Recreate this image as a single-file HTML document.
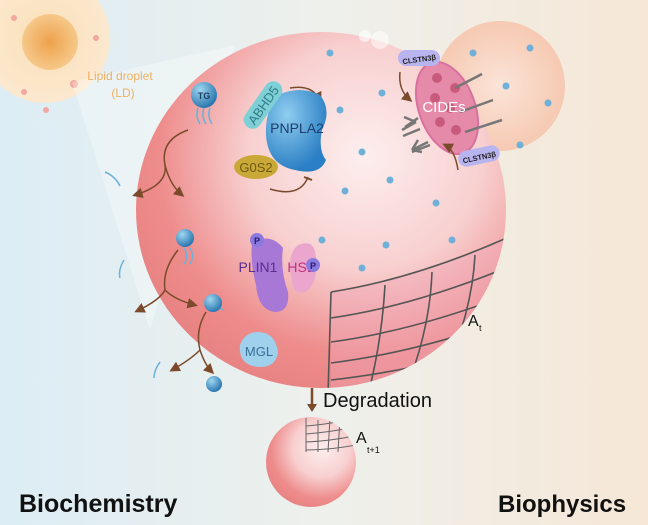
<!DOCTYPE html>
<html><head><meta charset="utf-8"><style>
html,body{margin:0;padding:0;width:648px;height:525px;overflow:hidden}
svg{display:block}
text{font-family:"Liberation Sans",sans-serif}
</style></head><body>
<svg width="648" height="525" viewBox="0 0 648 525" xmlns="http://www.w3.org/2000/svg">
<defs>
<linearGradient id="bg" x1="0" x2="1" y1="0" y2="0">
<stop offset="0" stop-color="#dcedf5"/><stop offset="0.5" stop-color="#eef0ec"/><stop offset="1" stop-color="#f6e7d6"/></linearGradient>
<radialGradient id="sph" cx="0.62" cy="0.35" r="0.7">
<stop offset="0" stop-color="#fdeeee"/><stop offset="0.45" stop-color="#f8d0d0"/><stop offset="0.8" stop-color="#ee8c8c"/><stop offset="1" stop-color="#e88282"/></radialGradient>
<radialGradient id="cell" cx="0.5" cy="0.5" r="0.5">
<stop offset="0" stop-color="#fbe0b8"/><stop offset="1" stop-color="#fbe8cf"/></radialGradient>
<radialGradient id="core" cx="0.5" cy="0.5" r="0.5">
<stop offset="0" stop-color="#eea24c"/><stop offset="1" stop-color="#f6c88a"/></radialGradient>
<radialGradient id="bub" cx="0.5" cy="0.5" r="0.5">
<stop offset="0" stop-color="#fbe4d8"/><stop offset="1" stop-color="#f6c9b2"/></radialGradient>
<radialGradient id="blue" cx="0.35" cy="0.3" r="0.7">
<stop offset="0" stop-color="#8fcdf0"/><stop offset="1" stop-color="#2b7fc4"/></radialGradient>
<radialGradient id="ball" cx="0.35" cy="0.3" r="0.7">
<stop offset="0" stop-color="#9fd6f0"/><stop offset="1" stop-color="#2b78b0"/></radialGradient>
<marker id="ah" markerWidth="7" markerHeight="7" refX="5" refY="3.5" orient="auto"><path d="M0,0 L7,3.5 L0,7 Z" fill="#7a4a2a"/></marker>
<clipPath id="sclip"><ellipse cx="321" cy="210" rx="185" ry="178"/></clipPath>
<clipPath id="s2clip"><circle cx="311" cy="462" r="45"/></clipPath>
</defs>
<rect width="648" height="525" fill="url(#bg)"/>
<circle cx="45" cy="38" r="65" fill="url(#cell)"/>
<circle cx="50" cy="42" r="28" fill="url(#core)"/>
<circle cx="14" cy="18" r="3" fill="#f2a8a0"/><circle cx="96" cy="38" r="3" fill="#f2a8a0"/><circle cx="24" cy="92" r="3" fill="#f2a8a0"/><circle cx="46" cy="110" r="3" fill="#f2a8a0"/><circle cx="74" cy="84" r="4" fill="#f2a8a0"/>
<path d="M72,82 L235,45 L150,330 Z" fill="#ffffff" opacity="0.3"/>
<circle cx="500" cy="86" r="65" fill="url(#bub)"/>
<ellipse cx="321" cy="210" rx="185" ry="178" fill="url(#sph)"/>
<g clip-path="url(#sclip)" stroke="#555" stroke-width="1.6" fill="none">
<path d="M331,292 Q420,278 520,232 L520,400 L331,400 Z" fill="#f0a8b8" opacity="0.4" stroke="none"/>
<path d="M331,292 Q420,278 520,232"/>
<path d="M331,318 Q420,305 520,262"/>
<path d="M331,342 Q420,330 520,290"/>
<path d="M331,363 Q420,352 520,315"/>
<path d="M331,380 Q420,370 520,340"/>
<path d="M331,393 Q420,386 520,362"/>
<path d="M331,292 L328,395"/>
<path d="M385,285 Q382,340 368,395"/>
<path d="M432,272 Q430,330 405,392"/>
<path d="M475,255 Q472,315 440,385"/>
<path d="M505,240 Q505,300 470,375"/>
</g>
<circle cx="365" cy="36" r="6" fill="#fff" opacity="0.6"/><circle cx="380" cy="40" r="9" fill="#fff" opacity="0.5"/>
<g fill="#6fb0d8">
<circle cx="330" cy="53" r="3.5"/><circle cx="382" cy="93" r="3.5"/><circle cx="340" cy="110" r="3.5"/><circle cx="362" cy="152" r="3.5"/><circle cx="345" cy="191" r="3.5"/><circle cx="390" cy="180" r="3.5"/><circle cx="322" cy="240" r="3.5"/><circle cx="362" cy="268" r="3.5"/><circle cx="386" cy="245" r="3.5"/><circle cx="452" cy="240" r="3.5"/><circle cx="436" cy="203" r="3.5"/><circle cx="473" cy="53" r="3.5"/><circle cx="506" cy="86" r="3.5"/><circle cx="530" cy="48" r="3.5"/><circle cx="548" cy="103" r="3.5"/><circle cx="520" cy="145" r="3.5"/>
</g>
<ellipse cx="447" cy="108" rx="28" ry="48" transform="rotate(-20 447 108)" fill="#e58aa8" stroke="#d870a0" stroke-width="2"/>
<g fill="#c85a7c"><circle cx="437" cy="78" r="5"/><circle cx="455" cy="88" r="5"/><circle cx="435" cy="98" r="5"/><circle cx="450" cy="108" r="5"/><circle cx="440" cy="122" r="5"/><circle cx="456" cy="130" r="5"/></g>
<g stroke="#777" stroke-width="2.5"><line x1="455" y1="88" x2="482" y2="74"/><line x1="460" y1="112" x2="493" y2="100"/><line x1="465" y1="132" x2="502" y2="120"/></g>
<text x="444" y="112" font-size="15" fill="#fff" text-anchor="middle">CIDEs</text>
<g stroke="#777" stroke-width="2.5" fill="none"><path d="M416,122 L402,130 M416,122 L404,117 M405,127 L418,118"/><path d="M428,142 L412,150 M412,150 L418,140 M412,150 L422,152"/><path d="M420,129 L403,136"/><path d="M430,145 L412,152"/></g>
<rect x="398" y="50" width="42" height="16" rx="8" fill="#b8b4f0"/><text x="419" y="62" font-size="7.5" font-weight="bold" text-anchor="middle" fill="#222" transform="rotate(-8 419 58)">CLSTN3β</text>
<rect x="458" y="148" width="42" height="16" rx="8" fill="#b8b4f0" transform="rotate(-12 479 156)"/><text x="479" y="160" font-size="7.5" font-weight="bold" text-anchor="middle" fill="#222" transform="rotate(-12 479 156)">CLSTN3β</text>
<path d="M400,72 Q398,90 410,100" stroke="#7a4a2a" stroke-width="1.5" fill="none" marker-end="url(#ah)"/>
<path d="M458,170 Q455,150 445,145" stroke="#7a4a2a" stroke-width="1.5" fill="none" marker-end="url(#ah)"/>
<path d="M290,88 Q312,84 320,100" stroke="#7a4a2a" stroke-width="1.5" fill="none" marker-end="url(#ah)"/>
<path d="M270,189 Q300,198 308,177" stroke="#7a4a2a" stroke-width="1.5" fill="none"/><line x1="304" y1="177" x2="312" y2="180" stroke="#7a4a2a" stroke-width="2"/>
<path d="M278,95 Q300,85 320,95 Q332,110 322,130 Q318,150 326,160 Q320,176 295,170 Q268,165 266,135 Q265,110 278,95 Z" fill="url(#blue)"/>
<rect x="236" y="96" width="54" height="18" rx="9" fill="#7fcfd6" transform="rotate(-55 263 105)"/>
<text x="263" y="110" font-size="13" fill="#2f7d88" text-anchor="middle" transform="rotate(-55 263 105)">ABHD5</text>
<text x="297" y="133" font-size="14" fill="#1d3d6a" text-anchor="middle">PNPLA2</text>
<ellipse cx="256" cy="167" rx="22" ry="12" fill="#c9a838"/>
<text x="256" y="172" font-size="13" fill="#6e5a10" text-anchor="middle">G0S2</text>
<circle cx="204" cy="95" r="13" fill="url(#ball)"/><text x="204" y="99" font-size="9" font-weight="bold" fill="#1e3f60" text-anchor="middle">TG</text>
<g stroke="#6fb0d8" stroke-width="1.5" fill="none"><path d="M198,108 q-3,8 2,16"/><path d="M204,108 q-3,8 2,16"/><path d="M210,108 q-3,8 2,16"/>
<path d="M184,248 q5,8 0,16"/><path d="M190,248 q5,8 0,16"/><path d="M212,300 q5,8 12,10"/>
<path d="M105,172 q10,4 15,14"/><path d="M124,260 q-6,10 -4,18"/><path d="M160,362 q-6,8 -6,16"/></g>
<circle cx="185" cy="238" r="9" fill="url(#ball)"/><circle cx="213" cy="303" r="9" fill="url(#ball)"/><circle cx="214" cy="384" r="8" fill="url(#ball)"/>
<g stroke="#7a4a2a" stroke-width="1.5" fill="none">
<path d="M188,130 Q160,140 165,165 Q168,185 135,195" marker-end="url(#ah)"/>
<path d="M165,165 Q170,185 182,195" marker-end="url(#ah)"/>
<path d="M178,250 Q162,270 165,290 Q160,300 137,311" marker-end="url(#ah)"/>
<path d="M165,290 Q175,300 195,305" marker-end="url(#ah)"/>
<path d="M206,312 Q195,330 200,350 Q190,360 172,370" marker-end="url(#ah)"/>
<path d="M200,350 Q205,365 212,372" marker-end="url(#ah)"/>
</g>
<path d="M298,245 Q316,238 316,260 Q318,285 305,292 Q292,295 292,280 Q286,255 298,245 Z" fill="#eaa6cc"/>
<path d="M252,243 Q270,232 283,248 Q280,270 288,292 Q290,312 275,312 Q258,310 256,285 Q250,262 252,243 Z" fill="#a778d6"/>
<text x="258" y="272" font-size="14" fill="#5a2d90" text-anchor="middle">PLIN1</text>
<text x="301" y="272" font-size="14" fill="#c0307a" text-anchor="middle">HSL</text>
<circle cx="257" cy="240" r="7" fill="#8a7ae0"/><text x="257" y="244" font-size="9" font-weight="bold" fill="#2a1a70" text-anchor="middle">P</text>
<circle cx="313" cy="265" r="7" fill="#8a7ae0"/><text x="313" y="269" font-size="9" font-weight="bold" fill="#2a1a70" text-anchor="middle">P</text>
<path d="M240,345 Q245,332 258,332 Q275,332 278,352 Q276,368 258,367 Q238,365 240,345 Z" fill="#9fd0ec"/>
<text x="259" y="356" font-size="13" fill="#3a6f9a" text-anchor="middle">MGL</text>
<text x="120" y="80" font-size="12" fill="#f0b060" text-anchor="middle">Lipid droplet</text>
<text x="123" y="97" font-size="12" fill="#f0b060" text-anchor="middle">(LD)</text>
<text x="468" y="326" font-size="16" fill="#111">A</text><text x="479" y="331" font-size="9" fill="#111">t</text>
<line x1="312" y1="388" x2="312" y2="406" stroke="#7a4a2a" stroke-width="2.5"/><path d="M307,404 L317,404 L312,412 Z" fill="#7a4a2a"/>
<text x="323" y="407" font-size="20" fill="#111">Degradation</text>
<circle cx="311" cy="462" r="45" fill="url(#sph)"/>
<g clip-path="url(#s2clip)" stroke="#666" stroke-width="1" fill="none">
<path d="M306,418 L306,452"/><path d="M306,426 Q330,424 345,420"/><path d="M306,434 Q330,432 350,428"/><path d="M306,442 Q330,441 354,436"/><path d="M306,450 Q330,450 356,445"/>
<path d="M318,420 L318,452"/><path d="M330,418 L328,452"/><path d="M340,418 L338,452"/>
</g>
<text x="356" y="443" font-size="16" fill="#111">A</text><text x="367" y="453" font-size="9" fill="#111">t+1</text>
<text x="19" y="512" font-size="25" font-weight="bold" fill="#111">Biochemistry</text>
<text x="498" y="512" font-size="24" font-weight="bold" fill="#111">Biophysics</text>
</svg>
</body></html>
